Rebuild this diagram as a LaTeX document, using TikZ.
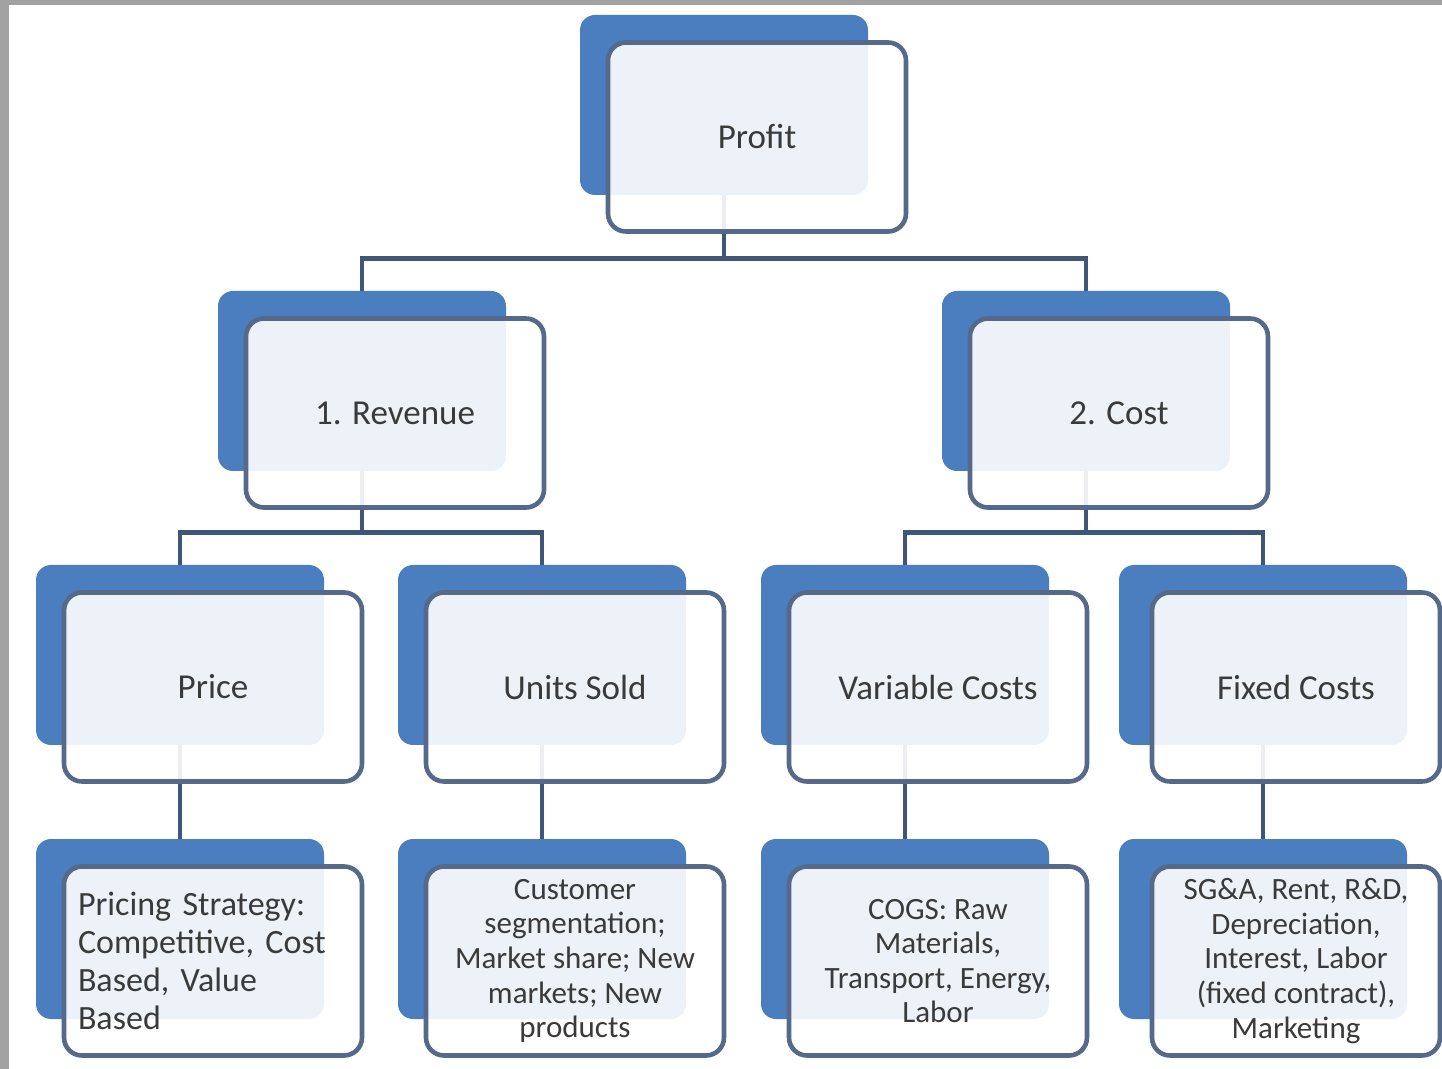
\documentclass[tikz,border=0pt]{standalone}
\usepackage{fontspec}
\setmainfont{Carlito}
\usetikzlibrary{calc}
\pgfdeclarelayer{back}
\pgfdeclarelayer{mid}
\pgfsetlayers{back,mid,main}
\definecolor{backblue}{HTML}{4A7EBE}
\definecolor{frontline}{HTML}{55698A}
\definecolor{connline}{HTML}{3F5676}
\definecolor{txt}{HTML}{3A3A3A}
\definecolor{frame}{HTML}{A2A2A2}
\tikzset{
  backbox/.style={draw=none, fill=backblue, rounded corners=7.5pt,
    minimum width=144pt, minimum height=90pt, inner sep=0pt},
  frontbox/.style={draw=frontline, line width=2.3pt, fill=white, fill opacity=0.9,
    text opacity=1, rounded corners=9pt, minimum width=149pt, minimum height=94.5pt,
    inner sep=0pt, text=txt, font=\fontsize{17.5pt}{20pt}\selectfont, align=center},
  detail/.style={font=\fontsize{15.5pt}{17.3pt}\selectfont},
  pricedetail/.style={font=\fontsize{17pt}{19pt}\selectfont, align=left,
    text width=135pt, inner xsep=7pt},
  conn/.style={draw=connline, line width=2.4pt}
}
\newcommand\mkbox[5][]{%
  \begin{pgfonlayer}{back}
    \node[backbox] (#2B) at ($(#3,#4)+(-33,-32)$) {};
  \end{pgfonlayer}
  \node[frontbox,#1] (#2) at (#3,#4) {#5};}
\begin{document}
\begin{tikzpicture}[x=0.5pt,y=-0.5pt]
  \begin{pgfonlayer}{back}
    \fill[frame] (0,0) rectangle (1442,1069);
    \fill[white] (9,5) rectangle (1442,1069);
  \end{pgfonlayer}
  \useasboundingbox (0,0) rectangle (1442,1069);

  \mkbox{profit}{757}{137}{Profit}
  \mkbox{rev}{395}{413}{1. Revenue}
  \mkbox{cost}{1119}{413}{2. Cost}
  \mkbox{price}{213}{687}{Price}
  \mkbox{units}{575}{687}{Units Sold}
  \mkbox{var}{938}{687}{Variable Costs}
  \mkbox[minimum width=144pt]{fixed}{1296}{687}{Fixed Costs}
  \mkbox[pricedetail]{pd}{213}{961}{Pricing Strategy:\\Competitive, Cost\\Based, Value\\Based}
  \mkbox[detail]{ud}{575}{961}{Customer\\segmentation;\\Market share; New\\markets; New\\products}
  \mkbox[detail]{vd}{938}{961}{COGS: Raw\\Materials,\\Transport, Energy,\\Labor}
  \mkbox[detail,minimum width=144pt]{fd}{1296}{961}{SG\&A, Rent, R\&D,\\Depreciation,\\Interest, Labor\\(fixed contract),\\Marketing}

  \begin{pgfonlayer}{mid}
    \draw[conn] (profitB.south) -- ++(0,63) -| (revB.north);
    \draw[conn] (profitB.south) -- ++(0,63) -| (costB.north);
    \draw[conn] (revB.south) -- ++(0,61) -| (priceB.north);
    \draw[conn] (revB.south) -- ++(0,61) -| (unitsB.north);
    \draw[conn] (costB.south) -- ++(0,61) -| (varB.north);
    \draw[conn] (costB.south) -- ++(0,61) -| (fixedB.north);
    \draw[conn] (priceB.south) -- (pdB.north);
    \draw[conn] (unitsB.south) -- (udB.north);
    \draw[conn] (varB.south) -- (vdB.north);
    \draw[conn] (fixedB.south) -- (fdB.north);
  \end{pgfonlayer}
\end{tikzpicture}
\end{document}
